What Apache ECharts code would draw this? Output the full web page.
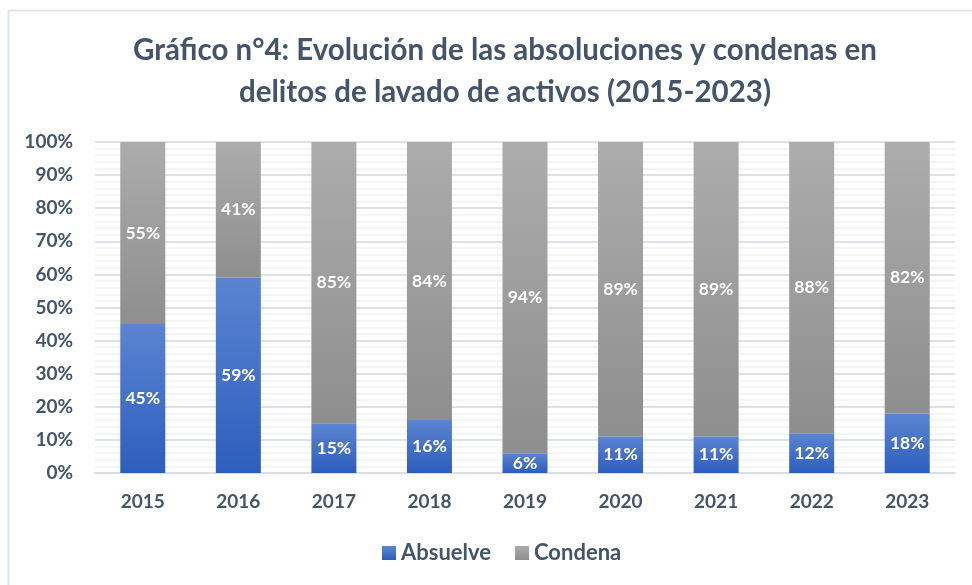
<!DOCTYPE html>
<html>
<head>
<meta charset="utf-8">
<script src="https://cdn.jsdelivr.net/npm/echarts@6/dist/echarts.min.js"></script>
<style>
  html, body { margin: 0; padding: 0; background: #fff; }
  #root { width: 972px; height: 585px; }
</style>
</head>
<body>
<div id="root"></div>
<script>
var years = ['2015', '2016', '2017', '2018', '2019', '2020', '2021', '2022', '2023'];
var absuelve = [45, 59, 15, 16, 6, 11, 11, 12, 18];
var condena = [55, 41, 85, 84, 94, 89, 89, 88, 82];
var yTicks = [0, 10, 20, 30, 40, 50, 60, 70, 80, 90, 100];

var textColor = '#44546a';
var font = 'Lato';

var blueGrad = new echarts.graphic.LinearGradient(0, 0, 0, 1, [
    { offset: 0, color: '#5b84d2' },
    { offset: 1, color: '#2d5ebd' }
]);
var grayGrad = new echarts.graphic.LinearGradient(0, 0, 0, 1, [
    { offset: 0, color: '#acacac' },
    { offset: 1, color: '#8e8e8e' }
]);

var chart = echarts.init(document.getElementById('root'));
var labelStyle = {
    show: true,
    position: 'inside',
    color: '#ffffff',
    fontFamily: font,
    fontWeight: 'bold',
    fontSize: 17.5,
    formatter: function (p) { return p.value + '%'; }
};

var option = {
    animation: false,
    backgroundColor: '#ffffff',
    title: {
        text: 'Gráfico n°4: Evolución de las absoluciones y condenas en\ndelitos de lavado de activos (2015-2023)',
        left: 500,
        textAlign: 'center',
        top: 24,
        textStyle: {
            color: textColor,
            fontFamily: font,
            fontWeight: 'bold',
            fontSize: 29.5,
            lineHeight: 42
        }
    },
    graphic: [
        { type: 'line', shape: { x1: 8.5, y1: 10.5, x2: 972, y2: 10.5 }, style: { stroke: '#dde3ec', lineWidth: 2 } },
        { type: 'line', shape: { x1: 8.5, y1: 10.5, x2: 8.5, y2: 585 }, style: { stroke: '#dde3ec', lineWidth: 2 } }
    ],
    legend: {
        data: ['Absuelve', 'Condena'],
        bottom: 16,
        left: 377,
        itemWidth: 14,
        itemHeight: 14,
        itemGap: 24,
        icon: 'rect',
        textStyle: { color: textColor, fontFamily: font, fontWeight: 'bold', fontSize: 22 }
    },
    grid: { left: 95, right: 17, top: 142, bottom: 112, containLabel: false },
    xAxis: {
        type: 'category',
        data: years,
        axisLine: { show: true, lineStyle: { color: '#d9dde5', width: 2 } },
        axisTick: { show: false },
        axisLabel: { color: textColor, fontFamily: font, fontWeight: 'bold', fontSize: 19, margin: 19 }
    },
    yAxis: {
        type: 'value',
        min: 0,
        max: 100,
        interval: 10,
        axisLine: { show: false },
        axisTick: { show: false },
        axisLabel: {
            color: textColor, fontFamily: font, fontWeight: 'bold', fontSize: 19, margin: 22,
            formatter: function (v) { return yTicks.indexOf(v) >= 0 ? v + '%' : ''; }
        },
        splitLine: { lineStyle: { color: '#dde2ea', width: 2 } },
        minorTick: { show: false, splitNumber: 5 },
        minorSplitLine: { show: true, lineStyle: { color: '#f0f2f5', width: 1.5 } }
    },
    series: [
        {
            name: 'Absuelve',
            type: 'bar',
            stack: 'total',
            barWidth: 45,
            data: absuelve,
            itemStyle: { color: blueGrad },
            label: labelStyle
        },
        {
            name: 'Condena',
            type: 'bar',
            stack: 'total',
            barWidth: 45,
            data: condena,
            itemStyle: { color: grayGrad },
            label: labelStyle
        }
    ]
};
chart.setOption(option);
</script>
</body>
</html>
